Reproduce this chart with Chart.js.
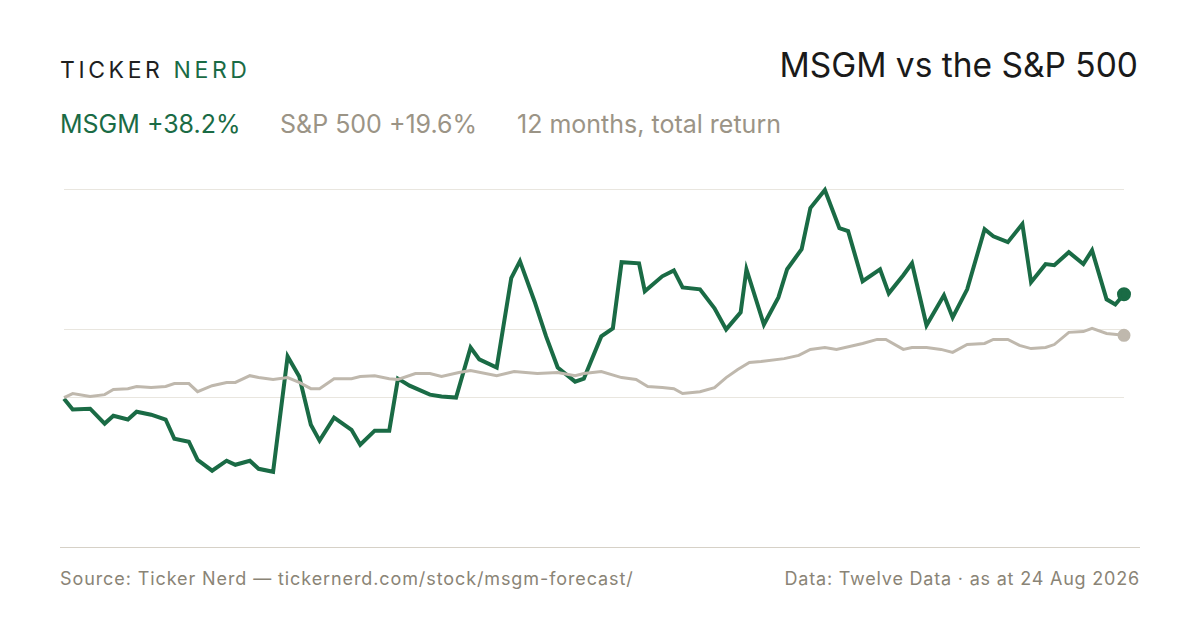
<!DOCTYPE html>
<html>
<head>
<meta charset="utf-8">
<script src="https://cdn.jsdelivr.net/npm/chart.js@4"></script>
<style>
  body { margin: 0; background: #fff; font-family: Inter, "Noto Sans", sans-serif; }
  #wrap { position: relative; width: 1200px; height: 630px; overflow: hidden; }
  .t { position: absolute; white-space: nowrap; }
  #c { position: absolute; left: 0; top: 172px; }
</style>
</head>
<body>
<div id="wrap">
  <div class="t" style="left:60px;top:56px;font-size:23px;letter-spacing:3.6px;color:#1f1f1f;">TICKER <span style="color:#1a6b45">NERD</span></div>
  <div class="t" style="right:62px;top:45px;font-size:33.5px;color:#1a1a1a;">MSGM vs the S&amp;P 500</div>
  <div class="t" style="left:60px;top:109px;font-size:25px;color:#1a6b45;">MSGM +38.2%</div>
  <div class="t" style="left:280px;top:109px;font-size:25px;color:#9b9486;">S&amp;P 500 +19.6%</div>
  <div class="t" style="left:517px;top:109px;font-size:25px;color:#9b9486;">12 months, total return</div>
  <canvas id="c" width="1200" height="370"></canvas>
  <div style="position:absolute;left:60px;top:547px;width:1080px;height:1px;background:#d6d1c7;"></div>
  <div class="t" style="left:60px;top:568px;font-size:18px;letter-spacing:0.9px;color:#8a8476;">Source: Ticker Nerd — tickernerd.com/stock/msgm-forecast/</div>
  <div class="t" style="right:60px;top:568px;font-size:18px;letter-spacing:0.8px;color:#8a8476;">Data: Twelve Data · as at 24 Aug 2026</div>
</div>
<script>
// day of the 12-month window, % total return
const msgmDays = [0,3,9,14,17,22,25,30,35,38,43,46,51,56,59,64,67,72,77,81,85,88,93,99,102,107,112,115,119,126,130,135,140,143,149,154,157,162,166,170,176,179,185,189,192,198,200,206,210,213,219,224,228,233,235,241,246,249,254,257,262,267,270,275,281,284,289,292,297,303,306,311,317,320,325,330,333,338,341,346,351,354,359,362,365];
const msgmVals = [-0.4,-4.4,-4.1,-9.6,-6.7,-8.1,-5.2,-6.3,-8.1,-15.2,-16.3,-23.0,-27.0,-23.3,-24.8,-23.3,-26.3,-27.4,15.2,7.8,-10.0,-15.9,-7.4,-11.9,-17.4,-12.2,-12.2,7.0,4.4,1.1,0.4,0,18.5,14.1,11.1,44.1,50.4,35.6,22.6,11.1,5.9,7.0,22.6,25.6,50.0,49.6,39.3,44.8,47.0,40.7,40.0,33.0,25.2,31.5,47.4,27.0,37.0,47.4,54.8,70.0,76.7,62.6,61.5,43.0,47.4,38.5,45.2,49.6,26.7,37.8,29.6,40.0,62.2,59.6,57.4,64.1,42.6,49.3,48.9,53.7,49.3,54.4,36.3,34.4,38.2];
const spDays = [0,3,9,14,17,22,25,30,35,38,43,46,51,56,59,64,67,72,77,81,85,88,93,99,102,107,112,115,121,126,130,136,140,149,155,163,170,176,179,185,192,197,201,206,210,213,219,224,228,232,236,240,248,253,257,262,266,275,280,283,289,292,297,302,306,311,317,320,325,329,333,338,341,346,351,354,359,365];
const spVals = [0,1.5,0.4,1.1,3.0,3.3,4.1,3.7,4.1,5.2,5.2,2.2,4.4,5.6,5.6,8.1,7.4,6.7,7.4,5.6,3.3,3.3,7.0,7.0,7.8,8.1,7.0,6.7,8.9,8.9,7.8,9.3,10.0,8.1,9.6,8.9,9.3,8.1,8.9,9.6,7.4,6.7,4.1,3.7,3.3,1.5,2.2,3.7,7.4,10.4,13.0,13.3,14.4,15.6,17.8,18.5,17.8,20.0,21.5,21.5,17.8,18.5,18.5,17.8,16.7,19.6,20.0,21.5,21.5,19.3,18.1,18.5,19.6,24.1,24.4,25.6,23.7,23.0];
const gridTicks = [0, 25, 77];

const toPts = (xs, ys) => xs.map((x, i) => ({ x: x, y: ys[i] }));
const endDot = (ctx) => ctx.dataIndex === ctx.dataset.data.length - 1 ? 5 : 0;

new Chart(document.getElementById('c'), {
    type: 'line',
    data: {
        datasets: [{
            label: 'S&P 500',
            data: toPts(spDays, spVals),
            borderColor: '#bfb8ad',
            backgroundColor: '#bfb8ad',
            borderWidth: 3,
            pointRadius: endDot,
            pointHoverRadius: 0,
            tension: 0,
            clip: false
        }, {
            label: 'MSGM',
            data: toPts(msgmDays, msgmVals),
            borderColor: '#1a6b45',
            backgroundColor: '#1a6b45',
            borderWidth: 4,
            pointRadius: endDot,
            pointHoverRadius: 0,
            tension: 0,
            clip: false
        }]
    },
    options: {
        responsive: false,
        animation: false,
        layout: { padding: { left: 64, right: 76, top: 0, bottom: 0 } },
        plugins: { legend: { display: false }, tooltip: { enabled: false } },
        scales: {
            x: { type: 'linear', min: 0, max: 365, display: false },
            y: {
                min: -50, max: 80,
                afterBuildTicks: (s) => { s.ticks = gridTicks.map(v => ({ value: v })); },
                ticks: { display: false },
                border: { display: false },
                grid: { color: '#e9e6df', lineWidth: 1, drawTicks: false }
            }
        }
    }
});
</script>
</body>
</html>
